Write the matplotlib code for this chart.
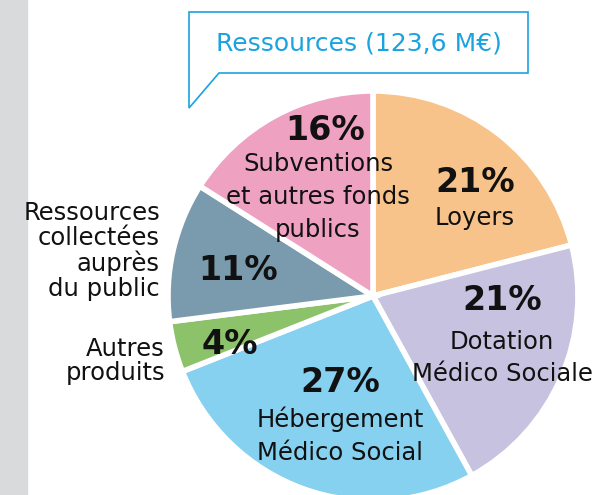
import matplotlib.pyplot as plt
from matplotlib.patches import Rectangle, Polygon

# data
labels = ["Loyers", "Dotation\nMédico Sociale", "Hébergement\nMédico Social",
          "Autres\nproduits", "Ressources\ncollectées\nauprès\ndu public",
          "Subventions\net autres fonds\npublics"]
shares = [21, 21, 27, 4, 11, 16]
colors = ["#F8C38A", "#C7C2E0", "#86D0F0", "#8CC26A", "#7A9BAD", "#EFA1C2"]
title = "Ressources (123,6 M€)"

W, H = 598, 495
fig = plt.figure(figsize=(W / 100, H / 100), dpi=100)
ax = fig.add_axes([0, 0, 1, 1])

cx, cy, r = 373, H - 296, 205
ax.pie(shares, colors=colors, startangle=90, counterclock=False,
       center=(cx, cy), radius=r,
       wedgeprops=dict(edgecolor="white", linewidth=4))
ax.set_xlim(0, W)
ax.set_ylim(0, H)
ax.set_aspect("equal")
ax.axis("off")

# grey strip on the left
ax.add_patch(Rectangle((0, 0), 27, H, color="#D9DADC", zorder=0))

# callout box
box = Polygon([(189, H - 12), (528, H - 12), (528, H - 73), (219, H - 73),
               (189, H - 108)], closed=True, facecolor="white",
              edgecolor="#1AA3DF", linewidth=1.2)
ax.add_patch(box)
ax.text(359, H - 43, title, ha="center", va="center", color="#1AA3DF",
        fontsize=18, family="DejaVu Sans")

font = dict(family="DejaVu Sans", color="#111111")
pct_size = 24
lab_size = 17.5

# percentages + labels inside the wedges
inside = [
    (475, 183, 218, 0),   # Loyers
    (502, 300, 358, 1),   # Dotation
    (340, 383, 436, 2),   # Hébergement
    (230, 345, None, 3),  # Autres
    (238, 270, None, 4),  # Ressources collectées
    (325, 130, 197, 5),   # Subventions
]
for x, y_pct, y_lab, i in inside:
    ax.text(x, H - y_pct, f"{shares[i]}%", ha="center", va="center",
            fontsize=pct_size, fontweight="bold", **font)
    if y_lab is not None:
        lx = 318 if i == 5 else x
        ax.text(lx, H - y_lab, labels[i], ha="center", va="center",
                fontsize=lab_size, linespacing=1.45, **font)

# labels outside on the left
ax.text(160, H - 251, labels[4], ha="right", va="center",
        fontsize=lab_size, linespacing=1.05, **font)
ax.text(165, H - 361, labels[3], ha="right", va="center",
        fontsize=lab_size, linespacing=1.05, **font)

fig.savefig("out.png", dpi=100)
